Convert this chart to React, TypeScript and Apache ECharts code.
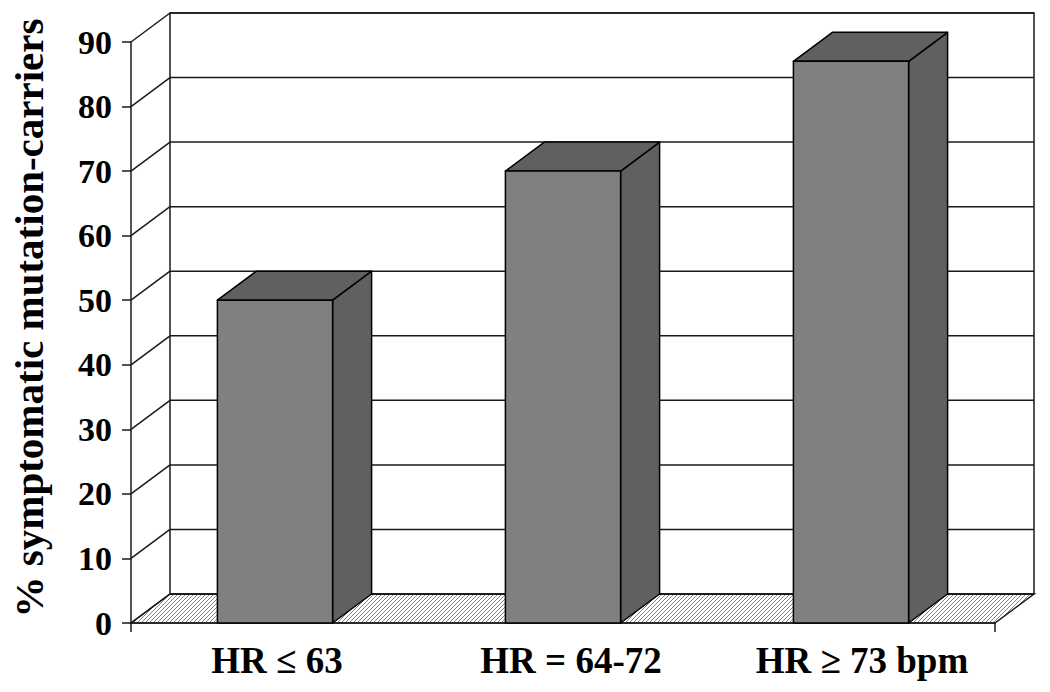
import React, { useEffect, useRef } from "react";
import * as echarts from "echarts";

const categories = ["HR ≤ 63", "HR = 64-72", "HR ≥ 73 bpm"];
const values = [50, 70, 87];
const yMin = 0;
const yMax = 90;
const yStep = 10;
const yTitle = "% symptomatic mutation-carriers";

// 3D depth offset in pixels (style)
const DX = 39;
const DY = -29;
const LINE = "#1a1a1a";
const FONT = "'Liberation Serif', 'Times New Roman', serif";
// per-label horizontal nudge (style), as left padding
const labelPad = [4, 16, 22];

const hatchSvg =
  '<svg xmlns="http://www.w3.org/2000/svg" width="4" height="4">' +
  '<path d="M-1,1 L1,-1 M0,4 L4,0 M3,5 L5,3" stroke="#777" stroke-width="0.9"/></svg>';
const hatchUrl = "data:image/svg+xml;charset=utf-8," + encodeURIComponent(hatchSvg);

export default function App() {
  const ref = useRef<HTMLDivElement>(null);
  useEffect(() => {
    if (!ref.current) return;
    const chart = echarts.init(ref.current, null, { renderer: "svg" });
    const ticks: number[] = [];
    for (let v = yMin; v <= yMax; v += yStep) ticks.push(v);

    const labelStyle = {
      color: "#000",
      fontFamily: FONT,
      fontWeight: "bold",
      fontSize: 37,
    };
    const rich: any = {};
    labelPad.forEach((p, i) => {
      rich["c" + i] = { ...labelStyle, padding: [0, 0, 0, p] };
    });

    const option: any = {
      animation: false,
      backgroundColor: "#fff",
      grid: { left: 131, right: 55, top: 42, bottom: 69 },
      xAxis: {
        type: "category",
        data: categories,
        axisLine: { show: true, lineStyle: { color: LINE, width: 1.5 } },
        axisTick: { show: false },
        axisLabel: {
          ...labelStyle,
          interval: 0,
          hideOverlap: false,
          margin: 19,
          formatter: (val: string, idx: number) => `{c${idx}|${val}}`,
          rich,
        },
        splitLine: { show: false },
      },
      yAxis: {
        type: "value",
        min: yMin,
        max: yMax,
        interval: yStep,
        axisLine: { show: true, lineStyle: { color: LINE, width: 1.5 } },
        axisTick: { show: true, length: 9, lineStyle: { color: LINE, width: 1.5 } },
        axisLabel: {
          color: "#000",
          fontFamily: FONT,
          fontWeight: "bold",
          fontSize: 34,
          margin: 19,
        },
        splitLine: { show: false },
      },
      graphic: [
        {
          type: "text",
          x: 29,
          y: 318,
          rotation: Math.PI / 2,
          style: {
            text: yTitle,
            font: `bold 41px ${FONT}`,
            fill: "#000",
            textAlign: "center",
            textVerticalAlign: "middle",
          },
        },
      ],
      series: [
        {
          type: "custom",
          z: 1,
          silent: true,
          data: [[0, 0]],
          renderItem: (params: any, api: any) => {
            const cs = params.coordSys;
            const x0 = cs.x;
            const x1 = cs.x + cs.width;
            const yb = cs.y + cs.height;
            const children: any[] = [];
            children.push({
              type: "polygon",
              shape: {
                points: [
                  [x0, yb],
                  [x1, yb],
                  [x1 + DX, yb + DY],
                  [x0 + DX, yb + DY],
                ],
              },
              style: {
                fill: { image: hatchUrl, repeat: "repeat", imageWidth: 4, imageHeight: 4 },
                stroke: LINE,
                lineWidth: 1.5,
              },
            });
            children.push({
              type: "rect",
              shape: { x: x0 + DX, y: cs.y + DY, width: cs.width, height: cs.height },
              style: { fill: "none", stroke: LINE, lineWidth: 1.5 },
            });
            ticks.forEach((v) => {
              const y = api.coord([0, v])[1];
              children.push({
                type: "line",
                shape: { x1: x0 + DX, y1: y + DY, x2: x1 + DX, y2: y + DY },
                style: { stroke: LINE, lineWidth: 1.5 },
              });
              children.push({
                type: "line",
                shape: { x1: x0, y1: y, x2: x0 + DX, y2: y + DY },
                style: { stroke: LINE, lineWidth: 1.5 },
              });
            });
            [x0, x1].forEach((x) => {
              children.push({
                type: "line",
                shape: { x1: x, y1: yb, x2: x, y2: yb + 9 },
                style: { stroke: LINE, lineWidth: 1.5 },
              });
            });
            return { type: "group", children };
          },
        },
        {
          type: "custom",
          z: 3,
          data: values.map((v, i) => [i, v]),
          encode: { x: 0, y: 1 },
          renderItem: (params: any, api: any) => {
            const i = api.value(0);
            const v = api.value(1);
            const top = api.coord([i, v]);
            const base = api.coord([i, 0]);
            const bw = api.size([1, 0])[0] * 0.4;
            const l = top[0] - bw / 2;
            const r = top[0] + bw / 2;
            const t = top[1];
            const b = base[1];
            const st = { stroke: "#000", lineWidth: 1.5, lineJoin: "round" };
            return {
              type: "group",
              children: [
                {
                  type: "polygon",
                  shape: { points: [[r, t], [r + DX, t + DY], [r + DX, b + DY], [r, b]] },
                  style: { ...st, fill: "#606060" },
                },
                {
                  type: "polygon",
                  shape: { points: [[l, t], [l + DX, t + DY], [r + DX, t + DY], [r, t]] },
                  style: { ...st, fill: "#606060" },
                },
                {
                  type: "rect",
                  shape: { x: l, y: t, width: r - l, height: b - t },
                  style: { ...st, fill: "#808080" },
                },
              ],
            };
          },
        },
      ],
    };
    chart.setOption(option);
    return () => chart.dispose();
  }, []);
  return <div ref={ref} style={{ width: 1050, height: 692, position: "absolute", left: 0, top: 0 }} />;
}
